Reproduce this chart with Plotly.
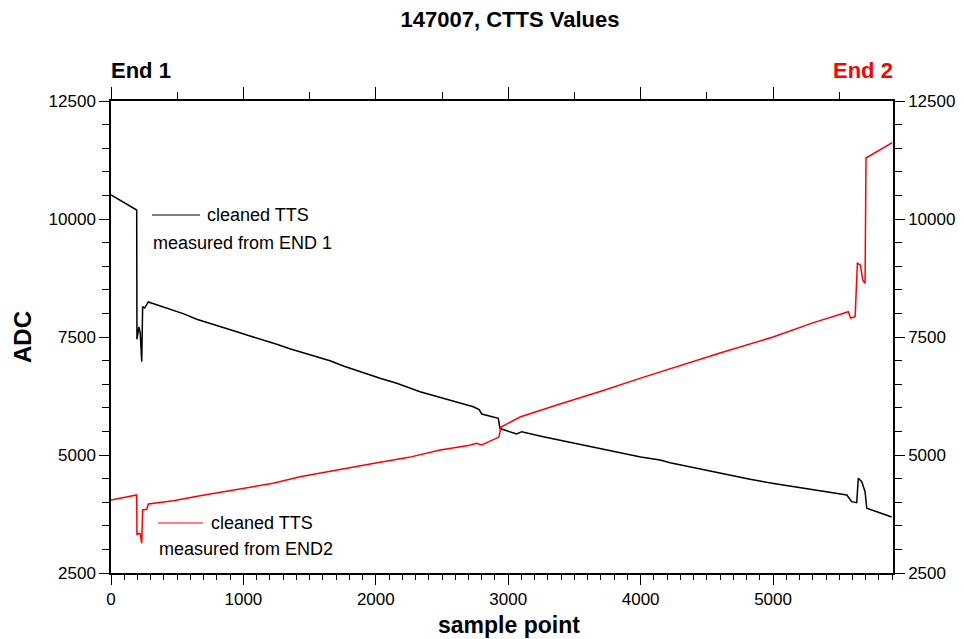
import plotly.graph_objects as go

# ---- data ----
end1_x = [0, 100, 194, 196, 211, 221, 232, 239, 254, 282, 350, 458, 550, 647, 750, 848, 950,
          1050, 1150, 1252, 1350, 1452, 1550, 1654, 1755, 1881, 2032, 2158, 2334, 2535, 2736,
          2780, 2800, 2925, 2938, 3064, 3102, 3265, 3400, 3567, 3700, 3869, 4000, 4146, 4222,
          4424, 4625, 4826, 5028, 5229, 5400, 5557, 5594, 5632, 5644, 5670, 5695, 5708, 5800, 5896]
end1_y = [10509, 10350, 10190, 7450, 7712, 7585, 6977, 8144, 8114, 8242, 8180, 8072, 7990, 7875,
          7790, 7706, 7610, 7521, 7440, 7345, 7250, 7167, 7080, 6998, 6886, 6765, 6625, 6519,
          6341, 6180, 6023, 5960, 5869, 5778, 5560, 5445, 5494, 5388, 5310, 5212, 5130, 5036,
          4960, 4894, 4837, 4718, 4597, 4485, 4385, 4294, 4220, 4153, 4011, 3990, 4506, 4434,
          4222, 3871, 3780, 3686]

end2_x = [0, 100, 194, 196, 211, 221, 232, 239, 270, 282, 471, 672, 874, 1050, 1226, 1427, 1629,
          1717, 2000, 2250, 2485, 2700, 2760, 2800, 2900, 2930, 2945, 3089, 3391, 3700, 4000,
          4300, 4600, 5000, 5300, 5569, 5585, 5620, 5637, 5660, 5677, 5695, 5702, 5900]
end2_y = [4047, 4110, 4153, 3305, 3340, 3330, 3129, 3835, 3850, 3962, 4032, 4138, 4237, 4328,
          4400, 4540, 4646, 4697, 4831, 4950, 5106, 5200, 5250, 5215, 5330, 5380, 5593, 5805,
          6081, 6350, 6628, 6900, 7160, 7500, 7800, 8036, 7903, 7930, 9061, 9025, 8708, 8638,
          11292, 11617]

x_range = [0, 5906]
y_range = [2500, 12500]
y_ticks = [2500, 5000, 7500, 10000, 12500]
y_tick_labels = ["2500", "5000", "7500", "10000", "12500"]
x_ticks = [0, 1000, 2000, 3000, 4000, 5000]
x_tick_labels = ["0", "1000", "2000", "3000", "4000", "5000"]

FONT = "Liberation Sans, Arial, sans-serif"

# page body has an 8px margin; lay the figure out so the plot box lands where the reference has it
W, H = 956, 631
PL, PR, PT, PB = 111, 893, 101, 573   # plot box in page pixels
OFF = 8


def px(x):
    return (x - PL) / (PR - PL)


def py(y):
    return (PB - y) / (PB - PT)


fig = go.Figure()
fig.add_trace(go.Scatter(x=end1_x, y=end1_y, mode="lines",
                         line=dict(color="black", width=1.5), showlegend=False,
                         xaxis="x", yaxis="y"))
fig.add_trace(go.Scatter(x=end2_x, y=end2_y, mode="lines",
                         line=dict(color="#ff0000", width=1.5), showlegend=False,
                         xaxis="x2", yaxis="y2"))

axis_common = dict(showline=True, linecolor="black", linewidth=1.5, showgrid=False,
                   zeroline=False, ticks="outside", tickcolor="black", tickwidth=1.2,
                   automargin=False,
                   tickfont=dict(family=FONT, size=17, color="black"))

fig.update_layout(
    width=W, height=H,
    margin=dict(l=PL - OFF, r=W - (PR - OFF), t=PT - OFF, b=H - (PB - OFF)),
    paper_bgcolor="white", plot_bgcolor="white",
    title=dict(text="<b>147007, CTTS Values</b>", x=(510 - OFF) / W, xanchor="center",
               y=1 - (19 - OFF) / H, yanchor="middle",
               font=dict(family=FONT, size=22, color="black")),
    xaxis=dict(range=x_range, tickvals=x_ticks, ticktext=x_tick_labels, ticklen=10,
               minor=dict(dtick=100, ticklen=5, ticks="outside", tickcolor="black"),
               **axis_common),
    xaxis2=dict(range=x_range, overlaying="x", side="top", anchor="y", tickvals=x_ticks,
                ticklen=12, showticklabels=False,
                minor=dict(dtick=500, ticklen=7, ticks="outside", tickcolor="black"),
                **axis_common),
    yaxis=dict(range=y_range, tickvals=y_ticks, ticktext=y_tick_labels, ticklen=10,
               minor=dict(dtick=500, ticklen=7, ticks="outside", tickcolor="black"),
               **axis_common),
    yaxis2=dict(range=y_range, overlaying="y", side="right", anchor="x", tickvals=y_ticks,
                ticktext=y_tick_labels, ticklen=10,
                minor=dict(dtick=500, ticklen=7, ticks="outside", tickcolor="black"),
                **axis_common),
)

ann_font = dict(family=FONT, size=18, color="black")
annotations = [
    dict(text="<b>End 1</b>", x=px(109), y=py(70), xanchor="left", yanchor="middle",
         font=dict(family=FONT, size=22, color="black")),
    dict(text="<b>End 2</b>", x=px(895), y=py(70), xanchor="right", yanchor="middle",
         font=dict(family=FONT, size=22, color="#ff0000")),
    dict(text="<b>ADC</b>", x=px(22), y=0.5, textangle=-90, xanchor="center",
         yanchor="middle", font=dict(family=FONT, size=24, color="black")),
    dict(text="<b>sample point</b>", x=px(509), y=py(625), xanchor="center",
         yanchor="middle", font=dict(family=FONT, size=23, color="black")),
    dict(text="cleaned TTS", x=px(205), y=py(215), xanchor="left",
         yanchor="middle", font=ann_font),
    dict(text="measured from END 1", x=px(151), y=py(243), xanchor="left",
         yanchor="middle", font=ann_font),
    dict(text="cleaned TTS", x=px(209), y=py(523), xanchor="left",
         yanchor="middle", font=ann_font),
    dict(text="measured from END2", x=px(157), y=py(549), xanchor="left",
         yanchor="middle", font=ann_font),
]
for a in annotations:
    a.update(xref="paper", yref="paper", showarrow=False)
fig.update_layout(annotations=annotations)

fig.update_layout(shapes=[
    dict(type="line", xref="paper", yref="paper", x0=px(152), x1=px(200),
         y0=py(215), y1=py(215), line=dict(color="black", width=1.2)),
    dict(type="line", xref="paper", yref="paper", x0=px(158), x1=px(203),
         y0=py(523), y1=py(523), line=dict(color="#ff0000", width=1.2)),
])

fig.write_html("out.html")
